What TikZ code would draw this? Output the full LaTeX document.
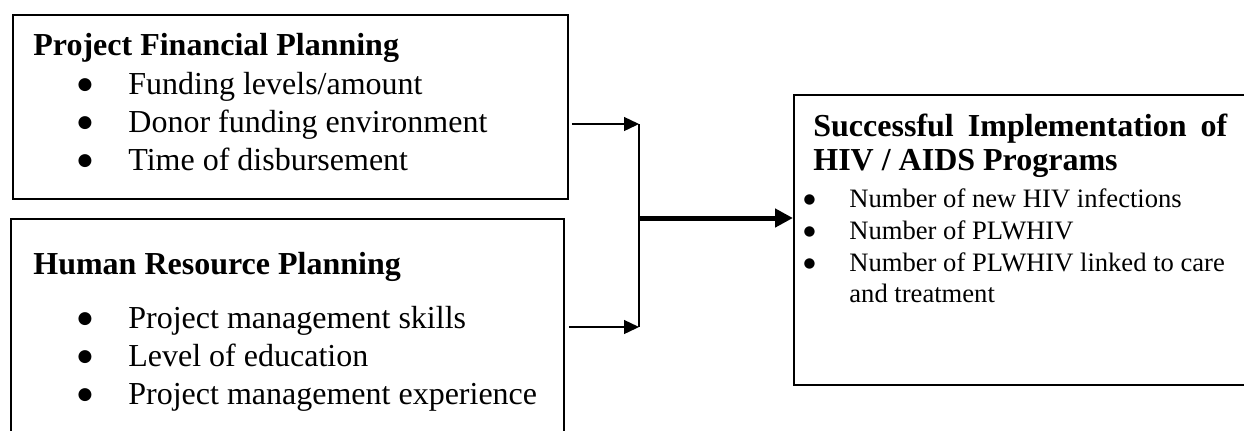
\documentclass[tikz,border=0pt]{standalone}
\usepackage{fontspec}
\setmainfont{Liberation Serif}
\newfontfamily\symfont{DejaVu Sans}
\usetikzlibrary{arrows.meta, calc}

\tikzset{
  box/.style={draw, line width=0.9pt, inner sep=0pt, anchor=north west},
  head/.style={font=\fontsize{16}{19}\selectfont\bfseries, anchor=base west, inner sep=0pt},
  point/.style={font=\fontsize{16}{19}\selectfont, anchor=base west, inner sep=0pt},
  smallpoint/.style={font=\fontsize{13.3}{16}\selectfont, anchor=base west, inner sep=0pt},
  link/.style={line width=0.7pt, -{Triangle[length=7.5pt,width=7pt]}},
  mainlink/.style={line width=2.5pt, -{Triangle[length=9pt,width=9pt]}}
}
% bullet: gap to text, glyph size, lift
\newcommand{\bul}[3]{\llap{\raisebox{#3}{\symfont\fontsize{#2}{#2}\selectfont ●}\hspace{#1}}}

\begin{document}
\begin{tikzpicture}[x=0.5pt, y=-0.5pt]
  \clip (0,0) rectangle (1244,430);
  % boxes
  \node[box, minimum width=277.5pt, minimum height=92pt] (fin) at (12,14) {};
  \node[box, minimum width=276.5pt, minimum height=115pt] (hr) at (10,218) {};
  \node[box, minimum width=232pt, minimum height=145pt] (hiv) at (793,94) {};
  % financial planning
  \node[head] (fintitle) at (33,55) {Project Financial Planning};
  \node[point] (fin1) at (128,94) {\bul{18pt}{8.5}{2.3pt}Funding levels/amount};
  \node[point] (fin2) at (128,132) {\bul{18pt}{8.5}{2.3pt}Donor funding environment};
  \node[point] (fin3) at (128,170) {\bul{18pt}{8.5}{2.3pt}Time of disbursement};
  % human resource planning
  \node[head] (hrtitle) at (33,274) {Human Resource Planning};
  \node[point] (hr1) at (128,328) {\bul{18pt}{8.5}{2.3pt}Project management skills};
  \node[point] (hr2) at (128,366) {\bul{18pt}{8.5}{2.3pt}Level of education};
  \node[point] (hr3) at (128,404) {\bul{18pt}{8.5}{2.3pt}Project management experience};
  % outcome
  \node[head] (hivtitle) at (813,136) {\makebox[207pt][s]{Successful Implementation of}};
  \node[head] (hivtitle2) at (813,170) {HIV / AIDS Programs};
  \node[smallpoint] (hiv1) at (849,207) {\bul{17pt}{6.8}{2pt}Number of new HIV infections};
  \node[smallpoint] (hiv2) at (849,239) {\bul{17pt}{6.8}{2pt}Number of PLWHIV};
  \node[smallpoint] (hiv3) at (849,271) {\bul{17pt}{6.8}{2pt}Number of PLWHIV linked to care};
  \node[smallpoint] (hiv4) at (849,302) {and treatment};
  % connectors
  \coordinate (jtop) at (639,124);
  \coordinate (jbot) at (639,327);
  \coordinate (jmid) at (639,218);
  \draw[link] ($(fin.east |- jtop)+(3,0)$) -- (jtop);
  \draw[link] ($(hr.east |- jbot)+(4,0)$) -- (jbot);
  \draw[line width=0.8pt] (jtop) -- (jbot);
  \draw[mainlink] (jmid) -- (hiv.west |- jmid);
\end{tikzpicture}
\end{document}
